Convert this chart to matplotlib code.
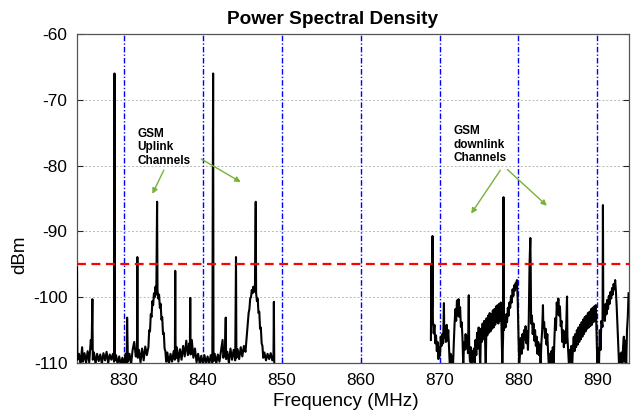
import numpy as np
import matplotlib.pyplot as plt

plt.rcParams['font.family'] = ['Liberation Sans', 'DejaVu Sans']
plt.rcParams['axes.unicode_minus'] = False

# uplink band trace (MHz, dBm)
uplink_freq = [
    824.05, 824.10, 824.30, 824.50, 824.70, 824.80, 825.00, 825.20, 825.40, 825.60,
    825.80, 825.90, 826.00, 826.05, 826.20, 826.40, 826.60, 826.80, 827.00, 827.20,
    827.40, 827.60, 827.80, 828.00, 828.20, 828.40, 828.60, 828.75, 828.80, 828.85,
    829.00, 829.20, 829.40, 829.60, 829.80, 830.00, 830.20, 830.35, 830.40, 830.50,
    830.70, 830.90, 831.10, 831.30, 831.50, 831.65, 831.70, 831.75, 831.90, 832.10,
    832.30, 832.50, 832.70, 832.90, 833.10, 833.20, 833.30, 833.40, 833.50, 833.60,
    833.70, 833.80, 833.90, 834.00, 834.10, 834.20, 834.25, 834.35, 834.45, 834.55,
    834.65, 834.75, 834.85, 834.95, 835.05, 835.15, 835.25, 835.35, 835.50, 835.70,
    835.90, 836.10, 836.30, 836.45, 836.50, 836.55, 836.70, 836.90, 837.10, 837.30,
    837.50, 837.70, 837.90, 838.10, 838.30, 838.35, 838.40, 838.45, 838.60, 838.80,
    839.00, 839.20, 839.40, 839.60, 839.80, 840.00, 840.20, 840.40, 840.60, 840.80,
    841.00, 841.20, 841.30, 841.35, 841.50, 841.70, 841.90, 842.10, 842.30, 842.50,
    842.60, 842.80, 842.90, 842.95, 843.10, 843.30, 843.50, 843.70, 843.90, 844.10,
    844.20, 844.25, 844.40, 844.60, 844.80, 845.00, 845.20, 845.40, 845.50, 845.60,
    845.70, 845.80, 845.90, 846.00, 846.10, 846.20, 846.30, 846.40, 846.50, 846.60,
    846.70, 846.75, 846.85, 846.95, 847.05, 847.15, 847.25, 847.35, 847.45, 847.55,
    847.65, 847.80, 848.00, 848.20, 848.40, 848.60, 848.80, 848.95, 849.00, 849.05,
]
uplink_dbm = [
    -95.5, -109.5, -108.6, -110.2, -107.6, -109.8, -108.5, -110.0, -108.2, -109.9,
    -106.5, -107.8, -100.3, -109.5, -108.4, -110.1, -108.6, -109.7, -108.7, -110.1,
    -108.5, -109.6, -108.3, -110.0, -108.7, -109.5, -108.6, -109.8, -66.0, -109.6,
    -108.8, -110.2, -109.0, -110.3, -109.2, -110.3, -108.6, -110.0, -103.1, -109.8,
    -108.6, -110.2, -108.0, -106.8, -109.0, -108.2, -93.9, -109.2, -108.0, -109.9,
    -107.8, -109.6, -107.5, -108.8, -107.6, -105.0, -105.2, -102.6, -103.0, -100.6,
    -101.2, -99.4, -100.0, -98.4, -99.6, -85.5, -98.8, -100.2, -99.6, -101.6,
    -101.0, -103.4, -103.0, -105.6, -105.4, -107.8, -108.2, -109.8, -108.4, -110.2,
    -108.6, -109.8, -108.2, -109.5, -96.0, -109.3, -107.6, -109.8, -107.9, -109.5,
    -107.4, -109.0, -106.6, -108.8, -107.0, -108.5, -100.1, -108.7, -106.5, -109.2,
    -107.8, -109.9, -108.6, -110.1, -108.9, -110.2, -108.8, -110.0, -109.0, -110.2,
    -108.8, -109.9, -66.0, -109.7, -108.6, -110.1, -108.7, -109.8, -108.2, -106.5,
    -109.2, -108.0, -103.1, -109.4, -108.3, -110.0, -107.8, -109.5, -108.0, -109.6,
    -93.9, -109.2, -107.9, -109.4, -107.6, -109.0, -107.4, -108.3, -106.8, -105.2,
    -104.0, -102.4, -101.8, -100.2, -100.0, -98.9, -99.4, -98.4, -99.2, -98.6,
    -85.5, -99.4, -100.6, -100.2, -102.4, -102.2, -104.8, -104.6, -107.0, -107.4,
    -109.2, -108.4, -109.6, -108.6, -109.4, -108.5, -109.6, -108.8, -100.7, -110.0,
]

# downlink band trace (MHz, dBm)
downlink_freq = [
    868.90, 868.95, 869.00, 869.05, 869.10, 869.15, 869.25, 869.35, 869.45, 869.55,
    869.65, 869.75, 869.85, 869.95, 870.05, 870.15, 870.25, 870.35, 870.45, 870.55,
    870.60, 870.70, 870.80, 870.90, 871.00, 871.10, 871.20, 871.30, 871.40, 871.50,
    871.60, 871.70, 871.80, 871.90, 872.00, 872.10, 872.20, 872.30, 872.40, 872.50,
    872.60, 872.70, 872.80, 872.90, 873.00, 873.10, 873.20, 873.30, 873.40, 873.50,
    873.60, 873.70, 873.75, 873.85, 873.95, 874.05, 874.15, 874.25, 874.35, 874.45,
    874.55, 874.65, 874.75, 874.85, 874.95, 875.05, 875.15, 875.25, 875.35, 875.45,
    875.55, 875.65, 875.75, 875.85, 875.95, 876.05, 876.15, 876.25, 876.35, 876.45,
    876.55, 876.65, 876.75, 876.85, 876.95, 877.05, 877.15, 877.25, 877.35, 877.45,
    877.55, 877.65, 877.75, 877.85, 877.95, 878.05, 878.10, 878.15, 878.25, 878.35,
    878.45, 878.55, 878.65, 878.75, 878.85, 878.95, 879.05, 879.15, 879.25, 879.35,
    879.45, 879.55, 879.65, 879.75, 879.80, 879.90, 880.00, 880.10, 880.20, 880.30,
    880.40, 880.50, 880.60, 880.70, 880.80, 880.90, 881.00, 881.10, 881.20, 881.30,
    881.40, 881.50, 881.55, 881.60, 881.70, 881.80, 881.90, 882.00, 882.10, 882.20,
    882.30, 882.40, 882.50, 882.60, 882.70, 882.80, 882.90, 883.00, 883.10, 883.15,
    883.25, 883.35, 883.45, 883.55, 883.65, 883.75, 883.85, 883.95, 884.05, 884.15,
    884.25, 884.35, 884.45, 884.55, 884.65, 884.75, 884.85, 884.95, 885.05, 885.15,
    885.25, 885.35, 885.45, 885.55, 885.65, 885.75, 885.85, 885.95, 886.05, 886.15,
    886.20, 886.30, 886.40, 886.50, 886.60, 886.70, 886.80, 886.90, 887.00, 887.10,
    887.20, 887.30, 887.40, 887.50, 887.60, 887.70, 887.80, 887.90, 888.00, 888.10,
    888.20, 888.30, 888.40, 888.50, 888.60, 888.70, 888.80, 888.90, 889.00, 889.10,
    889.20, 889.30, 889.40, 889.50, 889.60, 889.70, 889.80, 889.90, 890.00, 890.10,
    890.20, 890.30, 890.40, 890.50, 890.65, 890.70, 890.75, 890.85, 890.95, 891.05,
    891.15, 891.25, 891.35, 891.45, 891.55, 891.65, 891.75, 891.85, 891.95, 892.05,
    892.15, 892.25, 892.35, 892.45, 892.55, 892.65, 892.75, 892.85, 892.95, 893.05,
    893.15, 893.25, 893.35, 893.45, 893.55, 893.65, 893.75, 893.85, 893.95,
]
downlink_dbm = [
    -106.5, -95.0, -104.0, -101.0, -90.7, -103.5, -105.5, -104.2, -107.0, -105.8,
    -108.2, -106.8, -109.4, -107.6, -108.9, -106.0, -107.4, -105.6, -107.0, -100.9,
    -106.2, -104.4, -106.8, -104.2, -106.6, -105.0, -107.8, -110.5, -108.6, -110.5,
    -109.0, -110.5, -107.0, -104.0, -101.8, -103.6, -100.5, -102.8, -100.3, -103.0,
    -101.5, -104.5, -103.8, -106.2, -110.5, -106.8, -108.0, -105.6, -107.8, -106.0,
    -108.5, -99.7, -107.5, -109.8, -107.6, -110.5, -108.2, -109.6, -107.8, -110.5,
    -106.5, -108.8, -105.4, -107.8, -104.6, -107.2, -110.5, -104.8, -106.8, -104.0,
    -106.4, -103.6, -106.0, -110.5, -103.2, -105.8, -102.8, -105.4, -102.4, -105.2,
    -102.6, -104.8, -102.0, -104.6, -101.8, -104.2, -101.4, -103.8, -101.2, -104.0,
    -101.0, -103.6, -100.8, -104.8, -110.5, -106.0, -84.8, -105.0, -103.4, -104.6,
    -102.6, -103.8, -101.6, -102.8, -100.8, -101.6, -99.8, -100.8, -98.8, -99.8,
    -98.2, -99.0, -97.8, -98.6, -97.4, -100.5, -106.0, -110.5, -108.4, -106.2,
    -108.6, -105.6, -107.8, -105.0, -106.4, -104.4, -107.0, -105.2, -108.0, -103.6,
    -95.0, -91.0, -96.0, -104.0, -102.8, -105.6, -104.0, -106.6, -105.0, -107.4,
    -106.0, -108.6, -106.8, -108.8, -107.2, -110.5, -107.0, -105.0, -101.2, -104.6,
    -103.8, -106.2, -104.8, -107.2, -105.6, -108.4, -110.5, -108.6, -110.5, -108.2,
    -109.8, -107.6, -110.5, -106.4, -103.2, -105.0, -100.8, -102.6, -100.2, -102.8,
    -101.4, -104.4, -103.6, -106.8, -105.0, -107.6, -105.2, -107.0, -104.4, -99.9,
    -106.0, -108.4, -110.5, -108.0, -109.8, -107.4, -110.5, -107.8, -106.0, -108.2,
    -105.6, -107.6, -105.0, -107.2, -104.6, -106.8, -104.2, -106.4, -103.8, -106.0,
    -103.4, -105.6, -103.0, -105.2, -102.8, -104.8, -102.4, -104.6, -102.2, -104.4,
    -101.8, -104.2, -101.6, -103.8, -101.4, -103.6, -101.2, -106.0, -110.5, -107.8,
    -110.5, -105.0, -108.0, -103.6, -104.5, -86.0, -103.0, -101.8, -103.6, -101.0,
    -102.6, -100.4, -101.8, -99.8, -101.0, -99.2, -100.2, -98.6, -99.6, -98.0,
    -98.8, -97.4, -99.2, -101.6, -104.6, -107.4, -110.5, -108.6, -110.5, -108.4,
    -110.5, -107.6, -106.0, -109.8, -106.6, -110.5, -105.0, -103.0, -99.4,
]

channel_marks = [830, 840, 850, 860, 870, 880, 890]
threshold_dbm = -95
x_ticks = [830, 840, 850, 860, 870, 880, 890]
y_ticks = [-110, -100, -90, -80, -70, -60]

fig = plt.figure(figsize=(6.39, 4.12), dpi=100)
ax = fig.add_axes([0.1205, 0.1189, 0.8638, 0.7986])

# grid only horizontal, the blue lines act as vertical grid
for yv in y_ticks[1:-1]:
    ax.axhline(yv, color='#b8b8b8', lw=0.7, ls=(0, (2, 2)), zorder=1)

for xv in channel_marks:
    ax.axvline(xv, color='blue', lw=1.0, ls=(0, (4, 1.5, 1, 1.5)), zorder=2)

ax.plot(uplink_freq, uplink_dbm, color='black', lw=1.5, zorder=3)
ax.plot(downlink_freq, downlink_dbm, color='black', lw=1.5, zorder=3)

ax.axhline(threshold_dbm, color='red', lw=1.6, ls=(0, (4, 2.5)), zorder=4)

# annotations
green = '#77b336'
ax.text(831.7, -74.3, 'GSM\nUplink\nChannels', fontsize=8.5, fontweight='bold',
        va='top', ha='left', linespacing=1.15)
ax.text(871.7, -73.9, 'GSM\ndownlink\nChannels', fontsize=8.5, fontweight='bold',
        va='top', ha='left', linespacing=1.15)

arrows = [
    ((835.05, -80.7), (833.6, -84.3)),
    ((839.8, -79.0), (844.8, -82.5)),
    ((877.7, -80.7), (874.0, -87.3)),
    ((878.6, -80.6), (883.6, -86.1)),
]
for start, end in arrows:
    ax.annotate('', xy=end, xytext=start,
                arrowprops=dict(arrowstyle='-|>', color=green, lw=1.0,
                                mutation_scale=8, shrinkA=0, shrinkB=0))

ax.set_xlim(824.05, 894.0)
ax.set_ylim(-110, -60)
ax.set_xticks(x_ticks)
ax.set_yticks(y_ticks)
ax.tick_params(direction='in', length=4, labelsize=12.4, right=True, top=False,
               color='#262626', width=0.8, pad=7)
for s in ax.spines.values():
    s.set_color('#555555')
    s.set_linewidth(0.9)

# title and labels sit a bit left of the axes centre in the original
fig.text(332.5 / 639, 1 - 19 / 412, 'Power Spectral Density', fontsize=13.7,
         fontweight='bold', ha='center', va='center')
fig.text(345.5 / 639, 1 - 401 / 412, 'Frequency (MHz)', fontsize=13.6,
         ha='center', va='center')
fig.text(20 / 639, 1 - 255 / 412, 'dBm', fontsize=13.6, rotation=90,
         ha='center', va='center')

plt.savefig('out.png', dpi=100)
